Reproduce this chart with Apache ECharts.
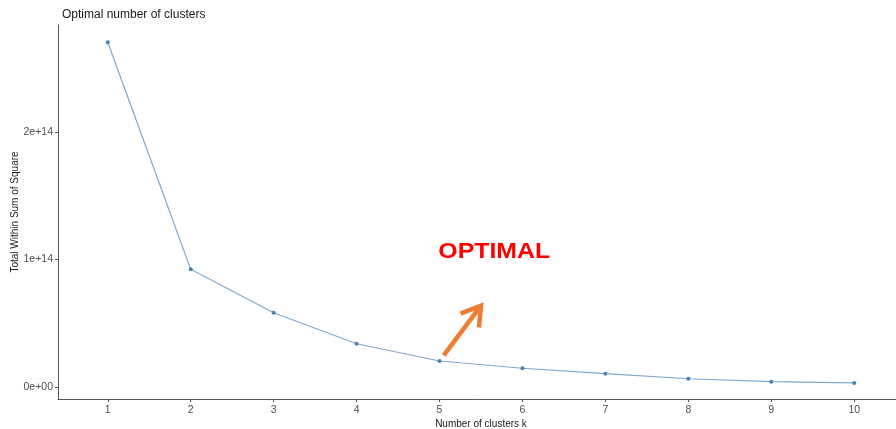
<!DOCTYPE html>
<html><head><meta charset="utf-8">
<script src="https://cdn.jsdelivr.net/npm/echarts@6/dist/echarts.min.js"></script>
<style>html,body{margin:0;padding:0;background:#fff}#c{width:896px;height:429px}</style>
</head><body><div id="c"></div>
<script>
var ks = [1, 2, 3, 4, 5, 6, 7, 8, 9, 10];
var wss = [2.702e14, 0.924e14, 0.584e14, 0.341e14, 0.206e14, 0.149e14, 0.107e14, 0.067e14, 0.044e14, 0.034e14];
var yTicks = [0, 1e14, 2e14];
var yTickLabels = ['0e+00', '1e+14', '2e+14'];
var xTicks = [1, 2, 3, 4, 5, 6, 7, 8, 9, 10];

var chart = echarts.init(document.getElementById('c'), null, {renderer: 'canvas'});
var font = 'Liberation Sans, Arial, sans-serif';
chart.setOption({
  animation: false,
  title: {text: 'Optimal number of clusters', left: 57, top: 4,
    textStyle: {fontFamily: font, fontSize: 12, fontWeight: 'normal', color: '#1a1a1a'}},
  grid: {left: 58, right: -8, top: 25, bottom: 30, containLabel: false, outerBoundsMode: 'none'},
  xAxis: {type: 'value', min: 0.4, max: 10.6,
    name: 'Number of clusters k', nameLocation: 'middle', nameGap: 20, nameMoveOverlap: false,
    nameTextStyle: {fontFamily: font, fontSize: 10, color: '#1a1a1a'},
    axisLine: {show: true, onZero: false, lineStyle: {color: '#555', width: 1}},
    axisTick: {show: true, customValues: xTicks, length: 3, lineStyle: {color: '#555'}},
    axisLabel: {customValues: xTicks, fontFamily: font, fontSize: 10.5, color: '#4d4d4d', margin: 6},
    splitLine: {show: false}},
  yAxis: {type: 'value', min: -0.0916e14, max: 2.837e14,
    name: 'Total Within Sum of Square', nameLocation: 'middle', nameGap: 38, nameMoveOverlap: false,
    nameTextStyle: {fontFamily: font, fontSize: 10, color: '#1a1a1a'},
    axisLine: {show: true, onZero: false, lineStyle: {color: '#555', width: 1}},
    axisTick: {show: true, customValues: yTicks, length: 3, lineStyle: {color: '#555'}},
    axisLabel: {customValues: yTicks, fontFamily: font, fontSize: 10.5, color: '#4d4d4d', margin: 5,
      formatter: function (v) { var i = yTicks.indexOf(v); return i >= 0 ? yTickLabels[i] : ''; }},
    splitLine: {show: false}},
  series: [{
    type: 'line', data: ks.map(function (k, i) { return [k, wss[i]]; }),
    symbol: 'circle', symbolSize: 4,
    lineStyle: {color: '#7fa8cf', width: 1.2},
    itemStyle: {color: '#4682B4'}
  }]
});

// annotation arrow + label, placed in data coordinates
var tail = chart.convertToPixel({gridIndex: 0}, [5.05, 0.25e14]);
var tip = chart.convertToPixel({gridIndex: 0}, [5.5, 0.64e14]);
var dx = tip[0] - tail[0], dy = tip[1] - tail[1];
var len = Math.sqrt(dx * dx + dy * dy), ux = dx / len, uy = dy / len;
var hl = 22, ang = 0.55;
function rot(a) { return [ux * Math.cos(a) - uy * Math.sin(a), ux * Math.sin(a) + uy * Math.cos(a)]; }
var r1 = rot(ang), r2 = rot(-ang);
var h1 = [tip[0] - r1[0] * hl, tip[1] - r1[1] * hl];
var h2 = [tip[0] - r2[0] * hl, tip[1] - r2[1] * hl];
var lblPos = chart.convertToPixel({gridIndex: 0}, [5.66, 1.06e14]);
chart.setOption({
  graphic: [
    {type: 'polyline', shape: {points: [tail, tip]}, style: {stroke: '#ED7D31', lineWidth: 4.5, lineCap: 'butt'}},
    {type: 'polyline', shape: {points: [h1, tip, h2]}, style: {stroke: '#ED7D31', lineWidth: 4.5, lineCap: 'butt', lineJoin: 'miter', fill: null}},
    {type: 'text', x: lblPos[0], y: lblPos[1], scaleX: 1.13,
      style: {text: 'OPTIMAL', fill: '#FF0000', font: 'bold 22px ' + font, align: 'center', verticalAlign: 'middle'}}
  ]
});
</script></body></html>
